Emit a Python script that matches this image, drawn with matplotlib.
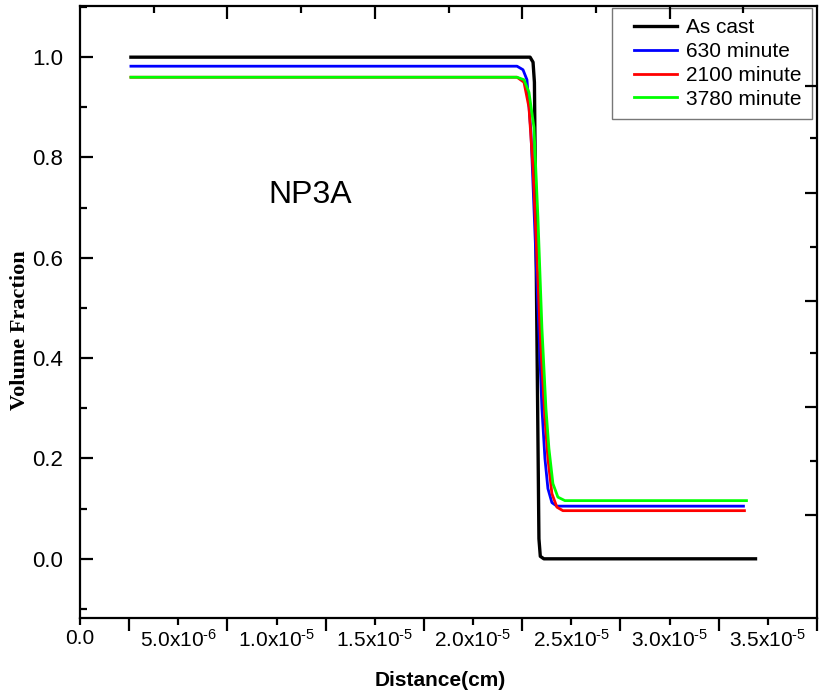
import matplotlib
matplotlib.use("Agg")
import matplotlib.pyplot as plt
from matplotlib.legend_handler import HandlerLine2D
import numpy as np

# ---------------- data ----------------
x_as_cast = [2.59e-6, 2.290e-5, 2.305e-5, 2.312e-5, 2.335e-5, 2.342e-5, 2.360e-5, 3.437e-5]
y_as_cast = [1.0, 1.0, 0.99, 0.95, 0.04, 0.005, 0.0, 0.0]

x_630 = [2.59e-6, 2.2234e-5, 2.2538e-5, 2.2741e-5, 2.2944e-5, 2.3147e-5, 2.3350e-5,
         2.3502e-5, 2.3655e-5, 2.3807e-5, 2.4010e-5, 2.4264e-5, 3.3756e-5]
y_630 = [0.982, 0.982, 0.975, 0.955, 0.85, 0.65, 0.45, 0.30, 0.20, 0.14, 0.112, 0.105, 0.105]

x_2100 = [2.59e-6, 2.2234e-5, 2.2589e-5, 2.2843e-5, 2.3046e-5, 2.3249e-5, 2.3452e-5,
          2.3655e-5, 2.3807e-5, 2.4010e-5, 2.4264e-5, 2.4569e-5, 3.3807e-5]
y_2100 = [0.96, 0.96, 0.95, 0.90, 0.78, 0.60, 0.42, 0.28, 0.20, 0.13, 0.103, 0.096, 0.096]

x_3780 = [2.59e-6, 2.2234e-5, 2.2589e-5, 2.2843e-5, 2.3096e-5, 2.3299e-5, 2.3502e-5,
          2.3706e-5, 2.3858e-5, 2.4061e-5, 2.4315e-5, 2.4670e-5, 3.3909e-5]
y_3780 = [0.96, 0.96, 0.955, 0.93, 0.86, 0.68, 0.46, 0.30, 0.22, 0.15, 0.123, 0.116, 0.116]

series_labels = ["As cast", "630 minute", "2100 minute", "3780 minute"]
series_colors = ["#000000", "#0000ff", "#ff0000", "#00ff00"]

x_label_values = [0.0, 5e-6, 1e-5, 1.5e-5, 2e-5, 2.5e-5, 3e-5, 3.5e-5]
x_label_texts = ["0.0", r"5.0x10$^{\text{-6}}$", r"1.0x10$^{\text{-5}}$", r"1.5x10$^{\text{-5}}$",
                 r"2.0x10$^{\text{-5}}$", r"2.5x10$^{\text{-5}}$", r"3.0x10$^{\text{-5}}$",
                 r"3.5x10$^{\text{-5}}$"]
y_tick_values = [0.0, 0.2, 0.4, 0.6, 0.8, 1.0]

# ---------------- style ----------------
plt.rcParams["font.family"] = ["Liberation Sans", "DejaVu Sans"]
plt.rcParams["mathtext.fontset"] = "custom"
plt.rcParams["mathtext.rm"] = "Liberation Sans"
plt.rcParams["mathtext.it"] = "Liberation Sans:italic"
plt.rcParams["mathtext.bf"] = "Liberation Sans:bold"


class OffsetLine(HandlerLine2D):
    """Legend line drawn only on the right part of the handle box."""
    def create_artists(self, legend, orig_handle, xdescent, ydescent, width, height,
                       fontsize, trans):
        arts = super().create_artists(legend, orig_handle, xdescent, ydescent, width,
                                      height, fontsize, trans)
        line = arts[0]
        xd = np.asarray(line.get_xdata(), dtype=float)
        line.set_xdata([xd[0] + 0.22 * width, xd[-1]])
        line.set_ydata([line.get_ydata()[0]] * 2)
        return arts


fig = plt.figure(figsize=(8.19, 6.98), dpi=100)
ax = fig.add_axes([0.0977, 0.1146, 0.8999, 0.8768])

xs = [x_as_cast, x_630, x_2100, x_3780]
ys = [y_as_cast, y_630, y_2100, y_3780]
widths = [2.4, 2.0, 2.0, 2.0]
lines = []
for xv, yv, lab, col, lw in zip(xs, ys, series_labels, series_colors, widths):
    ln, = ax.plot(xv, yv, color=col, lw=lw, label=lab, solid_joinstyle="round")
    lines.append(ln)

ax.set_xlim(0, 3.741e-5)
ax.set_ylim(-0.118, 1.102)

for s in ax.spines.values():
    s.set_linewidth(1.6)

# bottom axis: long unlabeled ticks between labels, short labeled ticks
major_x = [v + 2.5e-6 for v in x_label_values]
ax.set_xticks(major_x)
ax.set_xticklabels([""] * len(major_x))
ax.set_xticks(x_label_values, minor=True)
ax.set_xticklabels(x_label_texts, minor=True)
ax.tick_params(axis="x", which="major", direction="out", length=9, width=1.6, top=False)
ax.tick_params(axis="x", which="minor", direction="out", length=5, width=1.6,
               labelsize=15, pad=3, top=False)

ax.set_yticks(y_tick_values)
ax.set_yticklabels(["%.1f" % v for v in y_tick_values])
ax.set_yticks(np.arange(-0.1, 1.11, 0.1), minor=True)
ax.tick_params(axis="y", which="major", direction="in", length=9, width=1.6,
               labelsize=16, pad=12, right=False)
ax.tick_params(axis="y", which="minor", direction="in", length=5, width=1.6, right=False)

fig.text(440 / 819, 1 - 681 / 698, "Distance(cm)", fontsize=15, fontweight="bold",
         ha="center", va="center")
fig.text(20 / 819, 1 - 330 / 698, "Volume Fraction", fontsize=16, fontweight="bold",
         family=["Liberation Serif"], rotation=90, ha="center", va="center")

ax.text(1.17e-5, 0.725, "NP3A", fontsize=23, ha="center", va="center")

leg = ax.legend(handles=lines, loc="upper right", bbox_to_anchor=(0.993, 0.997),
                fontsize=15, frameon=True, fancybox=False, handlelength=2.62,
                handletextpad=0.45, borderpad=0.5, labelspacing=0.23, borderaxespad=0.0,
                handler_map={ln: OffsetLine() for ln in lines})
leg.get_frame().set_edgecolor("#555555")
leg.get_frame().set_linewidth(1.0)

# independent top axis ticks (inward)
axt = ax.twiny()
axt.set_xlim(0, 1)
axt.set_xticks([0.2, 0.4, 0.6, 0.8])
axt.set_xticks([0.1, 0.3, 0.5, 0.7, 0.9], minor=True)
axt.tick_params(axis="x", which="both", direction="in", labeltop=False, width=1.6)
axt.tick_params(axis="x", which="major", length=9)
axt.tick_params(axis="x", which="minor", length=5)
for s in axt.spines.values():
    s.set_visible(False)

# independent right axis ticks (inward)
axr = ax.twinx()
axr.set_ylim(0, 1)
axr.set_yticks([0.169, 0.344, 0.518, 0.695, 0.870])
axr.set_yticks([0.256, 0.433, 0.607, 0.784], minor=True)
axr.tick_params(axis="y", which="both", direction="in", labelright=False, width=1.6)
axr.tick_params(axis="y", which="major", length=9)
axr.tick_params(axis="y", which="minor", length=5)
for s in axr.spines.values():
    s.set_visible(False)

fig.savefig("out.png", dpi=100)
